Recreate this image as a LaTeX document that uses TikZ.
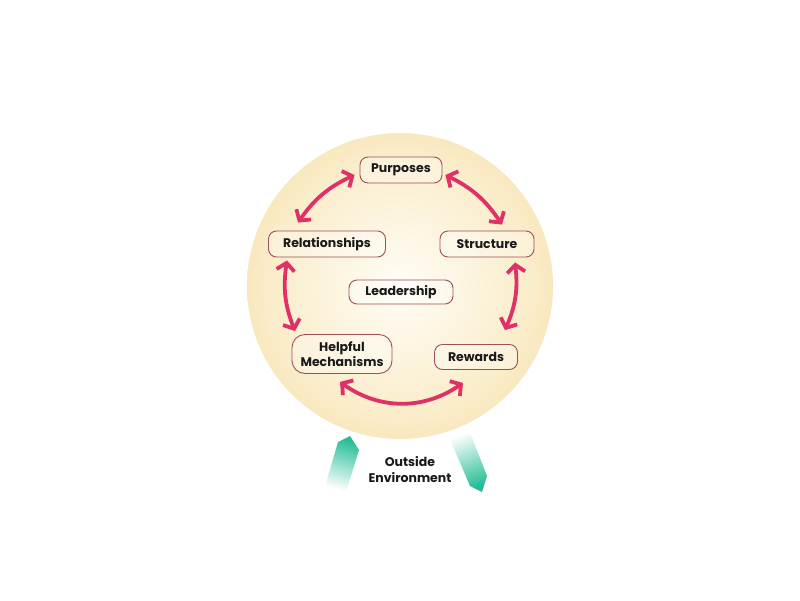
\documentclass[tikz,border=0pt]{standalone}
\usepackage{fontspec}
\setmainfont{Poppins}
\usepackage{xcolor}
\usetikzlibrary{arrows.meta,positioning}
\definecolor{gold}{RGB}{242,211,139}
\definecolor{creamA}{RGB}{255,253,247}
\definecolor{creamB}{RGB}{250,236,200}
\definecolor{boxline}{RGB}{160,78,88}
\definecolor{ink}{RGB}{25,25,25}
\definecolor{crimson}{RGB}{224,48,104}
\definecolor{teal}{RGB}{36,188,150}
\pgfdeclareradialshading{glow}{\pgfpoint{0bp}{0bp}}{color(0bp)=(creamA); color(22bp)=(creamB); color(42bp)=(gold); color(50bp)=(gold)}

\begin{document}
\begin{tikzpicture}[
  x=1pt, y=1pt,
  box/.style={draw=boxline, line width=0.9pt, rounded corners=8pt, fill=white,
              fill opacity=0.3, text opacity=1, minimum height=26pt, inner sep=0pt,
              font=\fontsize{12.5}{15}\selectfont\bfseries, text=ink, align=center},
  arr/.style={{Straight Barb[length=7.5pt,width=18pt]}-{Straight Barb[length=7.5pt,width=18pt]},
              line width=3.8pt, draw=crimson, line cap=round, line join=round}
]
\useasboundingbox (0,0) rectangle (800,-600);
\fill[white] (0,0) rectangle (800,-600);
\shade[shading=glow] (400,-286) circle[radius=153];

\node[box, minimum width=82pt]  (pur)  at (401,-170) {Purposes};
\node[box, minimum width=117pt] (rel)  at (327,-244) {Relationships};
\node[box, minimum width=94pt]  (str)  at (487,-244) {Structure};
\node[box, minimum width=104pt, minimum height=24pt] (lead) at (401,-292) {Leadership};
\node[box, minimum width=100pt, minimum height=39pt, rounded corners=13pt] (help) at (342,-354) {Helpful\\Mechanisms};
\node[box, minimum width=83pt, minimum height=25pt]  (rew)  at (476,-357) {Rewards};

\draw[arr] ([shift={(-5,-5)}]pur.west) to[bend right=15] ([shift={(-29,8)}]rel.north);
\draw[arr] ([shift={(3,-5)}]pur.east) to[bend left=15] ([shift={(15,6)}]str.north);
\draw[arr] ([shift={(-40,-3)}]rel.south) to[bend right=15] ([shift={(-47,3)}]help.north);
\draw[arr] ([shift={(28,-5)}]str.south) to[bend left=15] ([shift={(29,14)}]rew.north);
\draw[arr] ([shift={(-2,-8)}]help.south) to[bend right=35] ([shift={(-13,-13)}]rew.south);

\shade[top color=teal, bottom color=white, shading angle=-17]
  (324,-490) -- (338,-442) -- (350,-436) -- (359,-450) -- (346,-492) -- cycle;
\shade[top color=white, bottom color=teal, shading angle=22]
  (449,-437) -- (469,-430) -- (487,-476) -- (482,-492) -- (470,-486) -- cycle;
\node[font=\fontsize{12.5}{16}\selectfont\bfseries, text=ink, align=center] (env) at (410,-470) {Outside\\Environment};
\end{tikzpicture}
\end{document}
